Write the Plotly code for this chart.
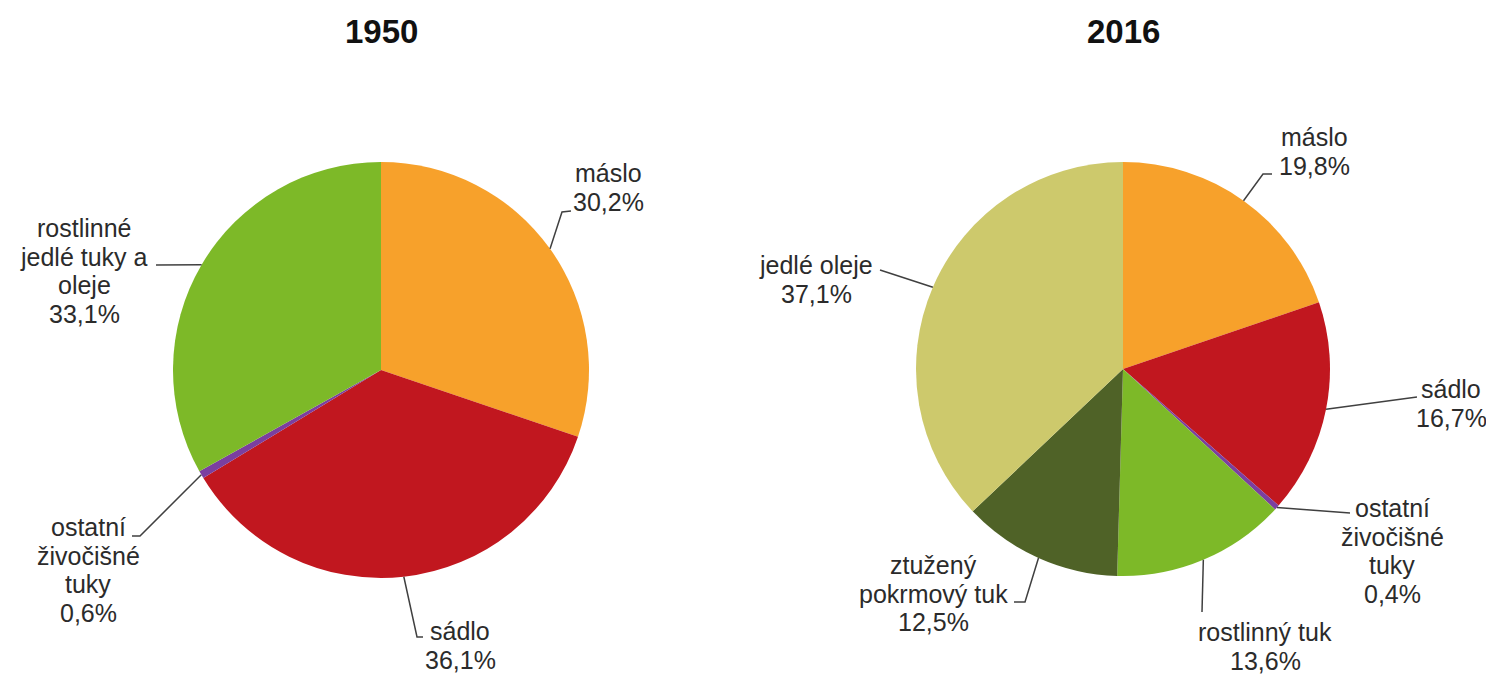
import math
import plotly.graph_objects as go

# page body has an 8px margin, so the figure is drawn 8px in from the corner
OFF = 8
W, H = 1494 - OFF, 674 - OFF

# data
years = ["1950", "2016"]

cats_1950 = ["máslo", "sádlo", "ostatní živočišné tuky", "rostlinné jedlé tuky a oleje"]
vals_1950 = [30.2, 36.1, 0.6, 33.1]
lines_1950 = [["máslo"], ["sádlo"], ["ostatní", "živočišné", "tuky"], ["rostlinné", "jedlé tuky a", "oleje"]]
colors_1950 = ["#F7A12B", "#C1171F", "#7B3FA0", "#7DB928"]

cats_2016 = ["máslo", "sádlo", "ostatní živočišné tuky", "rostlinný tuk",
             "ztužený pokrmový tuk", "jedlé oleje"]
vals_2016 = [19.8, 16.7, 0.4, 13.6, 12.5, 37.1]
lines_2016 = [["máslo"], ["sádlo"], ["ostatní", "živočišné", "tuky"], ["rostlinný tuk"],
              ["ztužený", "pokrmový tuk"], ["jedlé oleje"]]
colors_2016 = ["#F7A12B", "#C1171F", "#7B3FA0", "#7DB928", "#4F6227", "#CDC96C"]

# pie geometry in page px: centre x, centre y, radius
pies = [(381, 370, 208), (1123, 369, 207)]

# label placement (page px): text centre x, first line centre y, leader elbow, leader end
label_pos_1950 = [
    (608, 173, (562, 212), (571, 211)),
    (460, 631, (417, 637), (423, 637)),
    (88, 527, (140, 536), (132, 536)),
    (84, 228, (156, 265), (156, 265)),
]
label_pos_2016 = [
    (1314, 137, (1263, 174), (1272, 174)),
    (1451, 389, (1417, 397), (1417, 397)),
    (1392, 508, (1350, 513), (1350, 513)),
    (1265, 632, (1202, 612), (1202, 612)),
    (933, 565, (1025, 602), (1014, 602)),
    (816, 265, (880, 270), (880, 270)),
]

LINE_H = 28.5
FONT = "Liberation Sans, Arial, sans-serif"


def px(x):
    return (x - OFF) / W


def py(y):
    return 1 - (y - OFF) / H


def pct(v):
    return f"{v:.1f}".replace(".", ",") + "%"


fig = go.Figure()
annotations = []
shapes = []

sets = [
    (cats_1950, vals_1950, lines_1950, colors_1950, label_pos_1950),
    (cats_2016, vals_2016, lines_2016, colors_2016, label_pos_2016),
]

for (cats, vals, lines, colors, lpos), (cx, cy, r), year in zip(sets, pies, years):
    fig.add_trace(go.Pie(
        labels=cats, values=vals, sort=False, direction="clockwise", rotation=0,
        marker=dict(colors=colors, line=dict(width=0)),
        textinfo="none", hole=0, showlegend=False,
        domain=dict(x=[px(cx - r), px(cx + r)], y=[py(cy + r), py(cy - r)]),
        name=year,
    ))
    annotations.append(dict(
        x=px(cx), y=py(32), xref="paper", yref="paper", text="<b>" + year + "</b>",
        showarrow=False, xanchor="center", yanchor="middle",
        font=dict(family=FONT, size=33, color="#111111"),
    ))
    total = sum(vals)
    cum = 0
    for v, txt, (tx, ty, elbow, end) in zip(vals, lines, lpos):
        a = 2 * math.pi * (cum + v / 2) / total
        cum += v
        sx = cx + r * math.sin(a)
        sy = cy - r * math.cos(a)
        path = (f"M {px(sx)},{py(sy)} L {px(elbow[0])},{py(elbow[1])} "
                f"L {px(end[0])},{py(end[1])}")
        shapes.append(dict(type="path", xref="paper", yref="paper", path=path,
                           line=dict(color="#404040", width=1.5)))
        for i, t in enumerate(txt + [pct(v)]):
            annotations.append(dict(
                x=px(tx), y=py(ty + i * LINE_H), xref="paper", yref="paper", text=t,
                showarrow=False, xanchor="center", yanchor="middle",
                font=dict(family=FONT, size=25, color="#2b2b2b"),
            ))

fig.update_layout(
    width=W, height=H, margin=dict(l=0, r=0, t=0, b=0),
    paper_bgcolor="white", plot_bgcolor="white",
    annotations=annotations, shapes=shapes,
)

fig.write_html("out.html")
